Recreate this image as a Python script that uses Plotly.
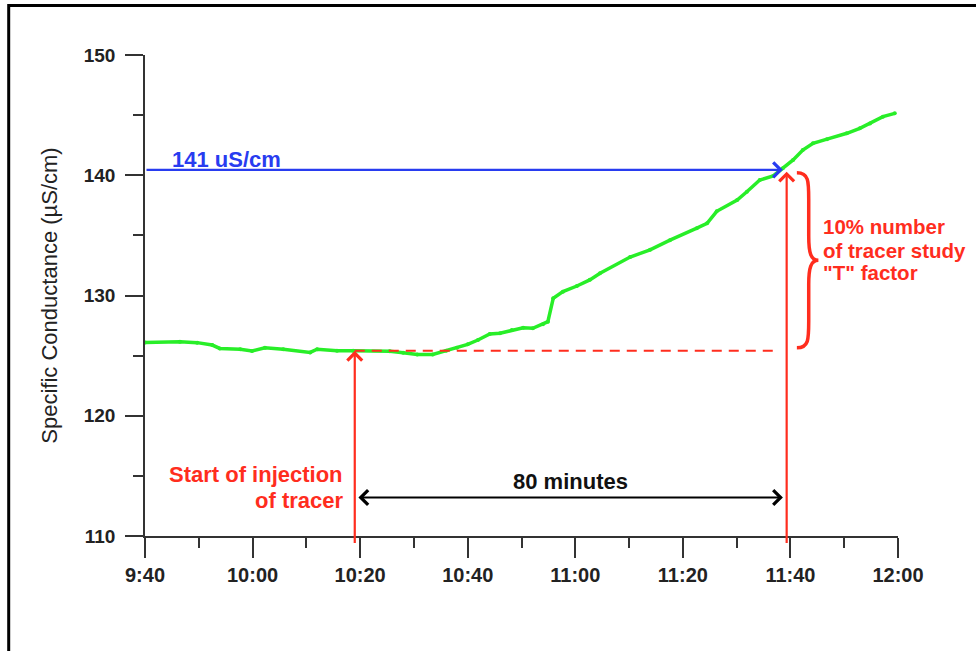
import plotly.graph_objects as go

# ---- data (minutes after 9:40, specific conductance uS/cm) ----
elapsed_min = [0, 6.5, 9.7, 12.5, 13.9, 17.7, 19.9, 22.3, 25.7, 30.7, 32.0, 35.7, 38.7,
               45.5, 48.0, 50.6, 53.5, 56.0, 58.0, 60.0, 61.9, 64.1, 66.0, 68.2, 70.3,
               72.1, 74.0, 74.9, 75.9, 77.7, 80.3, 82.7, 84.6, 90.2, 93.9, 97.6, 102.6,
               104.5, 106.3, 110.1, 111.9, 114.3, 116.8, 118.6, 120.5, 122.3, 124.2,
               126.8, 130.5, 132.9, 134.8, 137.2, 139.4]
conductance = [126.1, 126.15, 126.08, 125.88, 125.6, 125.53, 125.38, 125.66, 125.53, 125.27,
               125.53, 125.41, 125.41, 125.36, 125.24, 125.1, 125.1, 125.4, 125.66, 125.94,
               126.3, 126.8, 126.86, 127.13, 127.32, 127.27, 127.6, 127.82, 129.77, 130.32,
               130.79, 131.3, 131.85, 133.2, 133.8, 134.6, 135.6, 136.0, 137.0, 137.94,
               138.63, 139.6, 139.94, 140.58, 141.27, 142.1, 142.66, 143.0, 143.49, 143.9,
               144.3, 144.87, 145.15]

tick_minutes = [0, 20, 40, 60, 80, 100, 120, 140]
tick_labels = ["9:40", "10:00", "10:20", "10:40", "11:00", "11:20", "11:40", "12:00"]
minor_minutes = [10, 30, 50, 70, 90, 110, 130]

INJECTION_MIN = 39.0     # 10:19 start of tracer injection
T_FACTOR_MIN = 119.3     # 11:39, 80 minutes later
BASELINE = 125.4         # conductance before injection
THRESHOLD = 140.45       # 141 uS/cm level

RED = "rgb(255,45,30)"
BLUE = "rgb(40,60,240)"
GREEN = "rgb(40,238,40)"
FONT = "Liberation Sans, Arial, sans-serif"

fig = go.Figure()
fig.add_trace(go.Scatter(
    x=elapsed_min, y=conductance, mode="lines+markers",
    line=dict(color=GREEN, width=3.5), marker=dict(color=GREEN, size=4),
    showlegend=False, hoverinfo="skip"))

shapes = [
    # dashed baseline
    dict(type="line", xref="x", yref="y", x0=INJECTION_MIN, x1=T_FACTOR_MIN - 1.5,
         y0=BASELINE, y1=BASELINE, line=dict(color=RED, width=2, dash="10px,7px")),
    # outer frame
    dict(type="rect", xref="paper", yref="paper", x0=-0.181, x1=1.4, y0=-0.6, y1=1.103,
         line=dict(color="black", width=3), layer="below"),
]
# curly brace between baseline and threshold
bx0 = T_FACTOR_MIN + 1.9
bx1 = bx0 + 2.2
bx2 = bx0 + 4.0
top = THRESHOLD - 0.25
bot = BASELINE + 0.25
mid = (top + bot) / 2
brace = (f"M {bx0},{top} C {bx1},{top} {bx1},{top-0.7} {bx1},{top-2.2} "
         f"L {bx1},{mid+2.0} C {bx1},{mid+0.6} {bx1+0.4},{mid} {bx2},{mid} "
         f"C {bx1+0.4},{mid} {bx1},{mid-0.6} {bx1},{mid-2.0} "
         f"L {bx1},{bot+2.2} C {bx1},{bot+0.7} {bx1},{bot} {bx0},{bot}")
shapes.append(dict(type="path", xref="x", yref="y", path=brace,
                   line=dict(color=RED, width=3.5)))

ann = []
# blue arrow to threshold
ann.append(dict(x=T_FACTOR_MIN - 0.7, y=THRESHOLD, ax=0, ay=THRESHOLD, xref="x", yref="y",
                axref="x", ayref="y", text="", showarrow=True, arrowhead=4, arrowsize=1.3,
                arrowwidth=2.2, arrowcolor=BLUE, standoff=0))
ann.append(dict(x=4.6, y=141.35, xref="x", yref="y", text="141 uS/cm", showarrow=False,
                xanchor="left", yanchor="middle",
                font=dict(family=FONT, size=22, color=BLUE, weight="bold")))
# red vertical arrows
ann.append(dict(x=INJECTION_MIN, y=BASELINE, ax=INJECTION_MIN, ay=109.3, xref="x", yref="y",
                axref="x", ayref="y", text="", showarrow=True, arrowhead=4, arrowsize=1.3,
                arrowwidth=2.2, arrowcolor=RED, standoff=0))
ann.append(dict(x=T_FACTOR_MIN, y=THRESHOLD - 0.15, ax=T_FACTOR_MIN, ay=109.3, xref="x",
                yref="y", axref="x", ayref="y", text="", showarrow=True, arrowhead=4,
                arrowsize=1.3, arrowwidth=2.2, arrowcolor=RED, standoff=0))
# 80 minutes double arrow
ann.append(dict(x=T_FACTOR_MIN - 0.7, y=113.2, ax=INJECTION_MIN + 0.4, ay=113.2, xref="x",
                yref="y", axref="x", ayref="y", text="", showarrow=True, arrowhead=4,
                startarrowhead=4, arrowside="end+start", arrowsize=1.3, startarrowsize=1.3,
                arrowwidth=2.2, arrowcolor="black", standoff=0, startstandoff=0))
ann.append(dict(x=(INJECTION_MIN + T_FACTOR_MIN) / 2, y=114.57, xref="x", yref="y",
                text="80 minutes", showarrow=False, xanchor="center", yanchor="middle",
                font=dict(family=FONT, size=22, color="#111", weight="bold")))
# injection label
for txt, yv in [("Start of injection", 115.14), ("of tracer", 112.98)]:
    ann.append(dict(x=INJECTION_MIN - 1.8, y=yv, xref="x", yref="y", text=txt,
                    showarrow=False, xanchor="right", yanchor="middle",
                    font=dict(family=FONT, size=22, color=RED, weight="bold")))
# T factor label
for txt, yv in [("10% number", 135.78), ("of tracer study", 133.78), ('"T" factor', 131.95)]:
    ann.append(dict(x=125.7, y=yv, xref="x", yref="y", text=txt, showarrow=False,
                    xanchor="left", yanchor="middle",
                    font=dict(family=FONT, size=20.5, color=RED, weight="bold")))

fig.update_layout(
    width=976, height=651, autosize=False,
    margin=dict(l=145, r=78, t=55, b=115),
    paper_bgcolor="white", plot_bgcolor="white",
    shapes=shapes, annotations=ann,
    font=dict(family=FONT, color="#222"),
    xaxis=dict(range=[0, 140], tickmode="array", tickvals=tick_minutes, ticktext=tick_labels,
               ticks="outside", ticklen=20, tickwidth=1.5, tickcolor="#333",
               showline=True, linecolor="#333", linewidth=1.5, showgrid=False, zeroline=False,
               tickfont=dict(family=FONT, size=20, color="#222", weight="bold"),
               minor=dict(tickmode="array", tickvals=minor_minutes, ticks="outside",
                          ticklen=10, tickwidth=1.5, tickcolor="#333", showgrid=False)),
    yaxis=dict(range=[110, 150], tickmode="linear", tick0=110, dtick=10,
               ticks="outside", ticklen=18, tickwidth=1.5, tickcolor="#333",
               ticklabelstandoff=6,
               showline=True, linecolor="#333", linewidth=1.5, showgrid=False, zeroline=False,
               tickfont=dict(family=FONT, size=19, color="#222", weight="bold"),
               title=dict(text="Specific Conductance (µS/cm)", standoff=20,
                          font=dict(family=FONT, size=22, color="#222")),
               minor=dict(dtick=5, tick0=110, ticks="outside", ticklen=10, tickwidth=1.5,
                          tickcolor="#333", showgrid=False)),
)

fig.write_html("out.html", config={"displayModeBar": False},
               post_script="document.body.style.margin='0';")
